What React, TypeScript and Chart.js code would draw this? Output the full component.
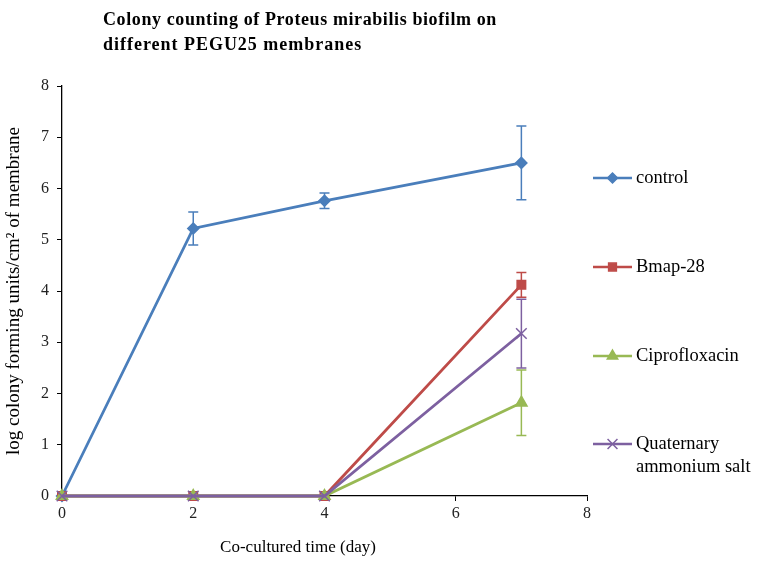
import React, { useEffect, useRef } from "react";
import { Chart, registerables } from "chart.js";
import { drawPoint } from "chart.js/helpers";

Chart.register(...registerables);

const days = [0, 2, 4, 7];
const seriesNames = ["control", "Bmap-28", "Ciprofloxacin", "Quaternary ammonium salt"];
const legendLines = [["control"], ["Bmap-28"], ["Ciprofloxacin"], ["Quaternary", "ammonium salt"]];
const controlValues = [0, 5.22, 5.76, 6.5];
const controlErr = [0, 0.32, 0.15, 0.72];
const bmapValues = [0, 0, 0, 4.12];
const bmapErr = [0, 0, 0, 0.24];
const ciproValues = [0, 0, 0, 1.82];
const ciproErr = [0, 0, 0, 0.64];
const quatValues = [0, 0, 0, 3.17];
const quatErr = [0, 0, 0, 0.67];
const xTicks = [0, 2, 4, 6, 8];
const yTicks = [0, 1, 2, 3, 4, 5, 6, 7, 8];
const titleLines = ["Colony counting of Proteus mirabilis biofilm on", "different PEGU25 membranes"];
const xTitle = "Co-cultured time (day)";
const yTitle = "log colony forming units/cm² of membrane";

const colors = ["#4A7EBB", "#BE4B48", "#98B954", "#7D60A0"];
const pointStyles = ["rectRot", "rect", "triangle", "crossRot"];
const pointRadii = [5.5, 6, 6.5, 7.5];
const allValues = [controlValues, bmapValues, ciproValues, quatValues];
const allErrs = [controlErr, bmapErr, ciproErr, quatErr];

const SERIF = "'Liberation Serif', 'Times New Roman', serif";

const errorBarPlugin = {
  id: "errorBars",
  afterDatasetsDraw(chart: any) {
    const ctx = chart.ctx;
    const xs = chart.scales.x;
    const ys = chart.scales.y;
    ctx.save();
    allErrs.forEach((errs, si) => {
      errs.forEach((e, i) => {
        if (!e) return;
        const v = allValues[si][i];
        const px = xs.getPixelForValue(days[i]);
        const top = ys.getPixelForValue(v + e);
        const bot = ys.getPixelForValue(v - e);
        ctx.strokeStyle = colors[si];
        ctx.lineWidth = 1.5;
        ctx.beginPath();
        ctx.moveTo(px, top);
        ctx.lineTo(px, bot);
        ctx.moveTo(px - 5, top);
        ctx.lineTo(px + 5, top);
        ctx.moveTo(px - 5, bot);
        ctx.lineTo(px + 5, bot);
        ctx.stroke();
      });
    });
    ctx.restore();
  },
};

const textPlugin = {
  id: "texts",
  afterDraw(chart: any) {
    const ctx = chart.ctx;
    const area = chart.chartArea;
    ctx.save();
    // title
    ctx.fillStyle = "#000";
    ctx.textBaseline = "alphabetic";
    ctx.textAlign = "left";
    ctx.font = `bold 18px ${SERIF}`;
    const targets = [394, 259];
    titleLines.forEach((line, i) => {
      (ctx as any).letterSpacing = "0px";
      const w = ctx.measureText(line).width;
      const sp = Math.max(0, (targets[i] - w) / line.length);
      (ctx as any).letterSpacing = sp.toFixed(2) + "px";
      ctx.fillText(line, 103, 25 + i * 25);
    });
    (ctx as any).letterSpacing = "0px";
    // x title
    ctx.font = `17px ${SERIF}`;
    ctx.textAlign = "center";
    ctx.textBaseline = "middle";
    ctx.fillText(xTitle, 298, 548);
    // legend
    const lx0 = area.right + 6;
    const lx1 = area.right + 45;
    const ly = [178, 267, 356, 444];
    ctx.font = `18.5px ${SERIF}`;
    ctx.textAlign = "left";
    ctx.textBaseline = "middle";
    seriesNames.forEach((_, i) => {
      ctx.strokeStyle = colors[i];
      ctx.lineWidth = 2.5;
      ctx.beginPath();
      ctx.moveTo(lx0, ly[i]);
      ctx.lineTo(lx1, ly[i]);
      ctx.stroke();
      ctx.fillStyle = colors[i];
      ctx.strokeStyle = colors[i];
      ctx.lineWidth = 1.5;
      drawPoint(ctx, { pointStyle: pointStyles[i], radius: pointRadii[i] - 0.5, borderWidth: 1.5, rotation: 0 } as any, (lx0 + lx1) / 2, ly[i]);
      ctx.fillStyle = "#000";
      legendLines[i].forEach((t, j) => {
        ctx.fillText(t, lx1 + 4, ly[i] + j * 23);
      });
    });
    ctx.restore();
  },
};

export default function App() {
  const ref = useRef<HTMLCanvasElement | null>(null);
  useEffect(() => {
    document.body.style.margin = "0";
    if (!ref.current) return;
    const datasets = allValues.map((vals, si) => ({
      label: seriesNames[si],
      data: vals.map((v, i) => ({ x: days[i], y: v })),
      borderColor: colors[si],
      backgroundColor: colors[si],
      borderWidth: 2.8,
      pointStyle: pointStyles[si],
      pointRadius: pointRadii[si],
      pointBorderWidth: 1.5,
      pointBackgroundColor: colors[si],
      pointBorderColor: colors[si],
      clip: false as any,
      order: 3 - si,
      tension: 0,
    }));
    const chart = new Chart(ref.current, {
      type: "line",
      data: { datasets },
      plugins: [errorBarPlugin, textPlugin],
      options: {
        animation: false,
        responsive: false,
        layout: { padding: { top: 86, right: 182, left: 0, bottom: 0 } },
        plugins: { legend: { display: false }, tooltip: { enabled: false }, title: { display: false } },
        scales: {
          x: {
            type: "linear",
            min: 0,
            max: 8,
            afterBuildTicks: (s: any) => {
              s.ticks = xTicks.map((v) => ({ value: v }));
            },
            afterFit: (s: any) => {
              s.height = 69;
            },
            grid: { display: true, drawOnChartArea: false, drawTicks: true, tickLength: 5, color: "#000", lineWidth: 1 },
            border: { display: true, color: "#000", width: 1.3 },
            ticks: { color: "#222", font: { family: SERIF, size: 16 }, padding: 3 },
          },
          y: {
            type: "linear",
            min: 0,
            max: 8,
            afterBuildTicks: (s: any) => {
              s.ticks = yTicks.map((v) => ({ value: v }));
            },
            afterFit: (s: any) => {
              s.width = 62;
            },
            grid: { display: true, drawOnChartArea: false, drawTicks: true, tickLength: 5, color: "#000", lineWidth: 1 },
            border: { display: true, color: "#000", width: 1.3 },
            ticks: { color: "#222", font: { family: SERIF, size: 16 }, padding: 8 },
            title: { display: true, text: yTitle, color: "#000", font: { family: SERIF, size: 19 }, padding: { top: 3, bottom: 0 } },
          },
        },
      },
    });
    return () => chart.destroy();
  }, []);
  return (
    <div style={{ width: 769, height: 565, background: "#fff" }}>
      <canvas ref={ref} width={769} height={565} />
    </div>
  );
}
